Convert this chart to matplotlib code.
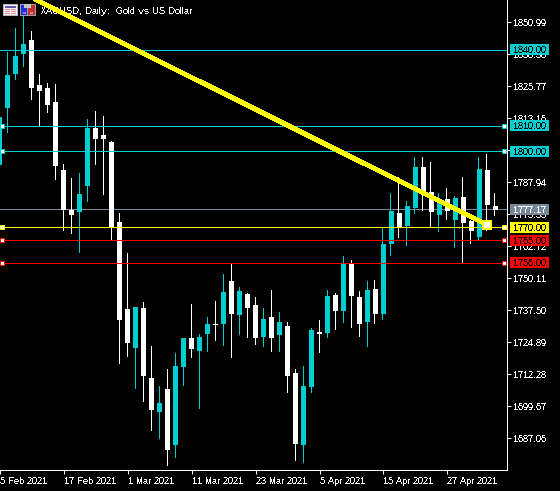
import matplotlib
matplotlib.use("Agg")
import matplotlib.pyplot as plt
from matplotlib.patches import Rectangle
from matplotlib.transforms import Affine2D

W, H = 560, 491
px = 0.72  # points per pixel at dpi 100

first_index = -1
opens = [1794.7,1817.2,1830.6,1838.5,1844.0,1826.3,1825.1,1819.6,1792.8,1777.0,1776.2,1786.5,1809.3,1806.6,1803.8,1772.3,
         1738.0,1722.6,1738.4,1710.8,1697.4,1706.4,1684.4,1715.1,1726.6,1721.4,1728.1,1732.1,1732.1,1749.0,1735.6,1743.9,
         1739.6,1726.9,1734.8,1727.7,1731.3,1712.8,1684.4,1707.2,1728.9,1728.5,1743.5,1737.2,1755.7,1742.7,1732.9,1745.9,
         1736.0,1763.6,1775.8,1770.7,1777.8,1794.0,1784.1,1775.0,1781.3,1773.1,1782.1,1772.7,1766.4,1792.8,1778.6]
highs = [1813.7,1839.3,1848.7,1854.7,1847.6,1830.6,1827.1,1826.7,1795.1,1789.6,1791.6,1812.9,1816.0,1814.1,1804.2,1775.8,
         1760.1,1738.8,1740.7,1723.4,1707.6,1714.3,1720.6,1726.6,1740.0,1728.1,1734.8,1741.1,1751.8,1755.7,1746.7,1744.3,
         1742.7,1738.4,1745.5,1736.8,1732.9,1714.3,1715.5,1730.5,1733.6,1745.5,1744.3,1758.9,1757.3,1745.1,1749.0,1749.4,
         1769.9,1783.7,1790.0,1780.6,1797.9,1797.9,1795.9,1783.7,1785.7,1782.5,1790.0,1773.1,1797.9,1799.1,1783.7]
lows = [1794.7,1807.5,1828.6,1833.8,1820.8,1810.1,1815.6,1789.2,1769.1,1767.9,1760.5,1780.6,1795.1,1783.3,1765.2,1716.7,
        1719.5,1706.8,1701.7,1690.3,1687.1,1676.5,1679.6,1708.0,1719.1,1699.0,1721.4,1725.8,1723.8,1719.1,1728.1,1726.9,
        1724.2,1723.4,1721.4,1721.4,1705.3,1678.5,1677.7,1705.3,1721.0,1726.9,1730.1,1732.9,1730.9,1727.3,1723.4,1732.5,
        1734.0,1759.3,1766.4,1763.2,1775.8,1777.0,1770.3,1768.7,1773.5,1762.4,1756.1,1764.0,1765.6,1769.1,1775.0]
closes = [1813.7,1830.2,1837.7,1842.4,1825.1,1823.9,1818.4,1794.4,1776.7,1775.0,1783.3,1809.3,1805.0,1805.0,1770.3,1733.6,
          1724.6,1738.8,1711.6,1698.2,1700.9,1682.4,1715.5,1726.6,1722.2,1726.9,1732.1,1731.7,1744.7,1736.0,1745.1,1738.4,
          1726.6,1734.0,1726.6,1732.9,1711.6,1684.8,1707.6,1729.7,1728.1,1743.1,1737.2,1755.7,1743.1,1732.1,1745.5,1736.0,
          1763.6,1776.6,1770.3,1778.6,1794.0,1784.1,1776.2,1781.3,1776.6,1781.7,1771.9,1768.7,1793.2,1779.0,1777.0]

date_labels = ["5 Feb 2021", "17 Feb 2021", "1 Mar 2021", "11 Mar 2021", "23 Mar 2021",
               "5 Apr 2021", "15 Apr 2021", "27 Apr 2021"]
date_positions = [-1, 7, 15, 23, 31, 39, 47, 55]
price_ticks = [1850.99, 1838.38, 1825.77, 1813.16, 1800.55, 1787.94, 1775.33, 1762.72,
               1750.11, 1737.50, 1724.89, 1712.28, 1699.67, 1687.06]

level_prices = [1840.0, 1810.0, 1800.0, 1770.0, 1765.0, 1756.0]
level_names = ["1840.00", "1810.00", "1800.00", "1770.00", "1765.00", "1756.00"]
level_colors = ["#00CED1", "#00CED1", "#00CED1", "#FFFF00", "#FF0000", "#FF0000"]
level_handles = [False, True, True, True, True, True]
last_price = 1777.17
trend_index = [0, 60]
trend_price = [1865.2, 1771.0]

TEAL = "#00CED1"
FONT = "Liberation Sans"
FS = 9.5 * px
plt.rcParams["font.family"] = FONT
plt.rcParams["text.antialiased"] = False
plt.rcParams["text.hinting"] = "no_autohint"
plt.rcParams["text.hinting_factor"] = 1

fig = plt.figure(figsize=(W / 100, H / 100), dpi=100, facecolor="black")
AX_W, AX_H = 507.0, 470.3
ax = fig.add_axes([0, (H - AX_H) / H, AX_W / W, AX_H / H], facecolor="black")
ax.set_xlim(-0.916, 62.46)
ax.set_ylim(1674.26, 1859.64)

ax.axhline(last_price, color="#778899", lw=1 * px, zorder=1, antialiased=False, snap=True)

wick_transform = Affine2D().translate(-1, 0)
for k, (o, h, l, c) in enumerate(zip(opens, highs, lows, closes)):
    x = first_index + k
    col = TEAL if c > o else "white"
    ax.vlines(x, l, h, color=col, lw=1 * px, zorder=2, antialiased=False, snap=True, capstyle="butt",
              transform=ax.transData + wick_transform)
    body = max(abs(o - c), 0.4)
    ax.bar(x, body, bottom=min(o, c), width=5 / 8, color=col, lw=0, zorder=2.1, antialiased=False)

yt = ax.get_yaxis_transform()
for price, name, col, hnd in zip(level_prices, level_names, level_colors, level_handles):
    ax.axhline(price, color=col, lw=1 * px, zorder=3, antialiased=False, snap=True)
    if hnd:
        ax.plot([2.0 / AX_W, 503.9 / AX_W], [price, price], ls="none", marker="s", ms=4 * px,
                mfc="white", mec=col, mew=1 * px, transform=yt, clip_on=False, zorder=3.5,
                antialiased=False)

ax.text(40.7 / AX_W, 1 - 10 / AX_H, "XAUUSD, Daily:  Gold vs US Dollar", color="white", fontsize=FS,
        ha="left", va="center_baseline", transform=ax.transAxes, zorder=3.8)

ax.plot(trend_index, trend_price, color="#FFFF00", lw=3.8 * px, solid_capstyle="butt",
        antialiased=False, zorder=4)
ax.plot(trend_index[-1], trend_price[-1], ls="none", marker="s", ms=8.5 * px, mfc="white",
        mec="#FFFF00", mew=2 * px, zorder=4.5, antialiased=False)

for side in ("top", "left"):
    ax.spines[side].set_visible(False)
for side in ("right", "bottom"):
    ax.spines[side].set_color("white")
    ax.spines[side].set_linewidth(1 * px)
    ax.spines[side].set_antialiased(False)
ax.yaxis.tick_right()
ax.set_yticks(price_ticks)
ax.set_yticklabels([f"{t:.2f}" for t in price_ticks], fontsize=FS, color="white")
ax.set_xticks(date_positions)
ax.set_xticklabels(date_labels, fontsize=FS, color="white", ha="left")
ax.tick_params(axis="y", length=4 * px, width=1 * px, color="white", pad=2 * px)
ax.tick_params(axis="x", length=4 * px, width=1 * px, color="white", pad=2.5 * px)
label_shift = Affine2D().translate(0, -1)
for label in ax.get_yticklabels():
    label.set_transform(label.get_transform() + label_shift)

BOX_X, BOX_W, BOX_H = 510 / AX_W, 39 / AX_W, 11 * (1859.78 - 1674.4) / AX_H
def price_box(price, text, bg, fg):
    ax.add_patch(Rectangle((BOX_X, price - BOX_H / 2), BOX_W, BOX_H, transform=yt, facecolor=bg,
                           edgecolor="none", clip_on=False, zorder=5, antialiased=False))
    ax.text(513 / AX_W, price, text, transform=yt, ha="left", va="center_baseline", fontsize=FS,
            color=fg, clip_on=False, zorder=6)
for price, name, col in zip(level_prices, level_names, level_colors):
    price_box(price, name, col, "black")
price_box(last_price, f"{last_price:.2f}", "#778899", "white")

pix = Affine2D().scale(1, -1).translate(0, H)
def box(x0, y0, x1, y1, color):
    fig.add_artist(Rectangle((x0, y0), x1 - x0, y1 - y0, transform=pix, facecolor=color,
                             edgecolor="none", zorder=10))
box(3, 4, 18, 15.5, "#b8b8c0")
box(4, 5, 17, 14.5, "#f4f0f0")
box(5, 6, 16, 8, "#5a5aa8")
for y in (9, 11, 13):
    box(5, y, 10, y + 1, "#e09090")
    box(11, y, 16, y + 1, "#e09090")
box(20, 4, 35.5, 15.5, "#9a9aa0")
box(21, 5, 27, 14.5, "#2a2ae0")
box(28, 5, 34.5, 14.5, "#c83030")
box(24, 4, 31, 8, "#c8c8c8")
box(23, 12, 26, 14, "#8080f0")
box(30, 12, 33, 14, "#e08080")

fig.savefig("out.png", dpi=100, facecolor="black")
